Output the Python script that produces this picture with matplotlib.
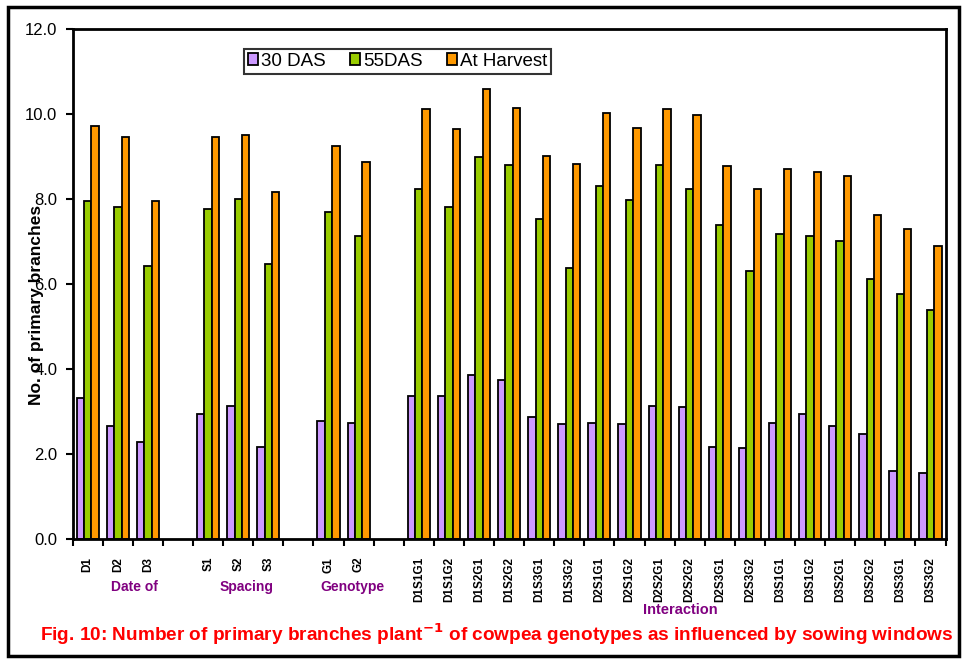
import numpy as np
import matplotlib.pyplot as plt
from matplotlib.patches import Rectangle

# sowing dates
date_labels = ['D1', 'D2', 'D3']
date_30 = [3.32, 2.66, 2.28]
date_55 = [7.94, 7.80, 6.42]
date_h = [9.72, 9.46, 7.95]

# spacing
spacing_labels = ['S1', 'S2', 'S3']
spacing_30 = [2.94, 3.13, 2.15]
spacing_55 = [7.76, 7.99, 6.46]
spacing_h = [9.46, 9.49, 8.16]

# genotype
geno_labels = ['G1', 'G2']
geno_30 = [2.78, 2.72]
geno_55 = [7.69, 7.12]
geno_h = [9.25, 8.86]

# interaction
inter_labels = ['D1S1G1', 'D1S1G2', 'D1S2G1', 'D1S2G2', 'D1S3G1', 'D1S3G2',
                'D2S1G1', 'D2S1G2', 'D2S2G1', 'D2S2G2', 'D2S3G1', 'D2S3G2',
                'D3S1G1', 'D3S1G2', 'D3S2G1', 'D3S2G2', 'D3S3G1', 'D3S3G2']
inter_30 = [3.35, 3.35, 3.85, 3.73, 2.86, 2.70, 2.72, 2.70, 3.12,
            3.10, 2.16, 2.13, 2.72, 2.93, 2.65, 2.46, 1.59, 1.55]
inter_55 = [8.24, 7.81, 8.98, 8.80, 7.53, 6.38, 8.31, 7.97, 8.80,
            8.23, 7.38, 6.30, 7.17, 7.12, 7.00, 6.11, 5.76, 5.38]
inter_h = [10.11, 9.64, 10.59, 10.13, 9.00, 8.82, 10.02, 9.66, 10.11,
           9.97, 8.77, 8.23, 8.70, 8.64, 8.53, 7.62, 7.29, 6.89]

series_names = ['30 DAS', '55DAS', 'At Harvest']
colors = ['#CC99FF', '#99CC00', '#FF9900']

sections = [
    (date_labels, date_30, date_55, date_h),
    (spacing_labels, spacing_30, spacing_55, spacing_h),
    (geno_labels, geno_30, geno_55, geno_h),
    (inter_labels, inter_30, inter_55, inter_h),
]

plt.rcParams['font.family'] = ['Liberation Sans', 'DejaVu Sans']

fig = plt.figure(figsize=(9.67, 6.63), dpi=100)
ax = fig.add_axes([72.7 / 967, 1 - 538.7 / 663, (945.5 - 72.7) / 967, 510 / 663])

width = 0.245
pos_all, lab_all = [], []
start = 0
for labels, v30, v55, vh in sections:
    x = np.arange(len(labels)) + start
    for k, vals in enumerate([v30, v55, vh]):
        ax.bar(x + (k - 1) * width, vals, width, color=colors[k], edgecolor='black',
               linewidth=1.3, label=series_names[k] if start == 0 else None, zorder=2)
    pos_all += list(x)
    lab_all += labels
    start += len(labels) + 1

n_slots = start - 1
ax.set_xlim(-0.5, n_slots - 0.5)
ax.set_ylim(0, 12)
ax.set_yticks(np.arange(0, 12.1, 2))
ax.set_yticklabels(['%.1f' % v for v in np.arange(0, 12.1, 2)], fontsize=12)

ax.set_xticks(np.arange(n_slots + 1) - 0.5)
ax.set_xticklabels([])
ax.set_xticks(pos_all, minor=True)
ax.set_xticklabels(lab_all, minor=True, rotation=90, fontsize=8.5, fontweight='bold',
                   va='top')
ax.tick_params(axis='x', which='major', length=5, width=1.5, direction='out')
ax.tick_params(axis='x', which='minor', length=0, pad=13)
ax.tick_params(axis='y', length=5, width=1.5, pad=6)

for s in ax.spines.values():
    s.set_linewidth(2)

leg = ax.legend(loc='upper left', bbox_to_anchor=(244 / 967, 1 - 49 / 663),
                bbox_transform=fig.transFigure, ncol=3, fontsize=13.5,
                frameon=True, fancybox=False, handlelength=0.55, handleheight=0.55,
                handletextpad=0.15, columnspacing=1.3, borderpad=0.2, borderaxespad=0)
leg.get_frame().set_edgecolor('black')
leg.get_frame().set_linewidth(1.5)

fig.text(37 / 967, 1 - 305 / 663, 'No. of primary branches', rotation=90,
         ha='center', va='center', fontsize=12.5, fontweight='bold')

purple = '#800080'
fig.text(134 / 967, 1 - 587 / 663, 'Date of', ha='center', va='center',
         fontsize=10, fontweight='bold', color=purple)
fig.text(247 / 967, 1 - 587 / 663, 'Spacing', ha='center', va='center',
         fontsize=10, fontweight='bold', color=purple)
fig.text(352 / 967, 1 - 587 / 663, 'Genotype', ha='center', va='center',
         fontsize=10, fontweight='bold', color=purple)
fig.text(680 / 967, 1 - 610 / 663, 'Interaction', ha='center', va='center',
         fontsize=10.5, fontweight='bold', color=purple)

fig.text(497 / 967, 1 - 634 / 663,
         'Fig. 10: Number of primary branches plant$^{\\mathbf{-1}}$ of cowpea genotypes as influenced by sowing windows',
         ha='center', va='center', fontsize=13.7, fontweight='bold', color='red')

fig.patches.append(Rectangle((8 / 967, 1 - 656 / 663), 951 / 967, 649 / 663,
                             transform=fig.transFigure, fill=False,
                             edgecolor='black', linewidth=2.5))

fig.savefig('out.png', dpi=100)
